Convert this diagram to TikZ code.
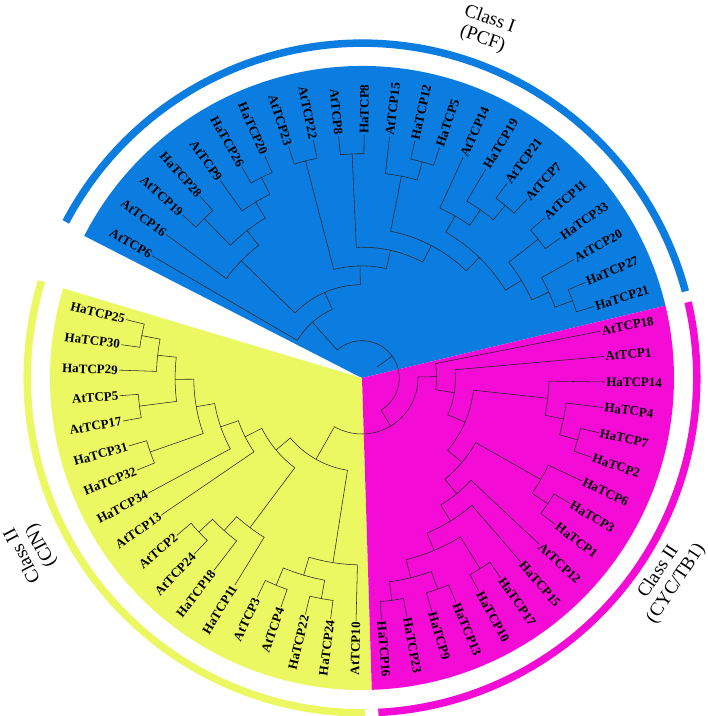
\documentclass[tikz,border=0pt]{standalone}
\usepackage{fontspec}
\setmainfont{Liberation Serif}
\usepackage{xcolor}
\definecolor{pcfblue}{RGB}{12,125,224}
\definecolor{cinyellow}{RGB}{236,248,97}
\definecolor{cycpink}{RGB}{244,12,214}
\usepackage{tikz}
\usetikzlibrary{calc}
\tikzset{
  branch/.style={draw=black!85,line width=0.55pt},
  leaf_lab/.style={font=\fontsize{13}{15}\selectfont\bfseries,inner sep=1.2pt},
  class_lab/.style={font=\fontsize{19}{21}\selectfont,align=center,inner sep=0pt},
  class_ring/.style={line width=7.5pt},
}
% leaf: id, slot on the circle, label
\newcommand\tcpleaf[3]{%
  \pgfmathsetmacro\tcpang{149.8-6.03*#2}%
  \expandafter\xdef\csname tcpA#1\endcsname{\tcpang}%
  \expandafter\xdef\csname tcpH#1\endcsname{0}%
  \coordinate (#1) at (\tcpang:243pt);
  \pgfmathtruncatemacro\tcpleft{abs(\tcpang)>90}%
  \ifnum\tcpleft=1
    \pgfmathsetmacro\tcprot{\tcpang+180}%
    \node[leaf_lab,anchor=east,rotate=\tcprot] (#1-lab) at (#1) {#3};
  \else
    \node[leaf_lab,anchor=west,rotate=\tcpang] (#1-lab) at (#1) {#3};
  \fi
}
% clade: id, child, child
\newcommand\tcpclade[3]{%
  \pgfmathsetmacro\tcpaa{\csname tcpA#2\endcsname}%
  \pgfmathsetmacro\tcpab{\csname tcpA#3\endcsname}%
  \pgfmathsetmacro\tcpang{(\tcpaa+\tcpab)/2}%
  \pgfmathsetmacro\tcphgt{max(\csname tcpH#2\endcsname,\csname tcpH#3\endcsname)+1}%
  \pgfmathsetmacro\tcprad{243-18.7*\tcphgt}%
  \expandafter\xdef\csname tcpA#1\endcsname{\tcpang}%
  \expandafter\xdef\csname tcpH#1\endcsname{\tcphgt}%
  \coordinate (#1) at (\tcpang:\tcprad pt);
  \coordinate (#1-s) at (\tcpaa:\tcprad pt);
  \draw[branch] (#2) -- (#1-s)
    arc[start angle=\tcpaa,end angle=\tcpab,radius=\tcprad pt] -- (#3);
}

\begin{document}
\begin{tikzpicture}[x=1pt,y=1pt]
  \path[use as bounding box] (-362pt,-338pt) rectangle (346pt,378pt);
  \fill[white] (-362pt,-338pt) rectangle (346pt,378pt);

  % sectors
  \fill[pcfblue] (0,0) -- (13.4:312pt) arc[start angle=13.4,end angle=152.9,radius=312pt] -- cycle;
  \fill[cinyellow] (0,0) -- (163.3:312pt) arc[start angle=163.3,end angle=271.8,radius=312pt] -- cycle;
  \fill[cycpink] (0,0) -- (-88.2:312pt) arc[start angle=-88.2,end angle=13.4,radius=312pt] -- cycle;

  % outer rings
  \draw[class_ring,pcfblue] (15:334.8pt) arc[start angle=15,end angle=152.2,radius=334.8pt];
  \draw[class_ring,cycpink] (-87.2:334.8pt) arc[start angle=-87.2,end angle=13.1,radius=334.8pt];
  \draw[class_ring,cinyellow] (163.2:334.8pt) arc[start angle=163.2,end angle=270.5,radius=334.8pt];

  % Class I leaves
  \tcpleaf{at6}{0}{AtTCP6}
  \tcpleaf{at16}{1}{AtTCP16}
  \tcpleaf{at19}{2}{AtTCP19}
  \tcpleaf{ha28}{3}{HaTCP28}
  \tcpleaf{at9}{4}{AtTCP9}
  \tcpleaf{ha26}{5}{HaTCP26}
  \tcpleaf{ha20}{6}{HaTCP20}
  \tcpleaf{at23}{7}{AtTCP23}
  \tcpleaf{at22}{8}{AtTCP22}
  \tcpleaf{at8}{9}{AtTCP8}
  \tcpleaf{ha8}{10}{HaTCP8}
  \tcpleaf{at15}{11}{AtTCP15}
  \tcpleaf{ha12}{12}{HaTCP12}
  \tcpleaf{ha5}{13}{HaTCP5}
  \tcpleaf{at14}{14}{AtTCP14}
  \tcpleaf{ha19}{15}{HaTCP19}
  \tcpleaf{at21}{16}{AtTCP21}
  \tcpleaf{at7}{17}{AtTCP7}
  \tcpleaf{at11}{18}{AtTCP11}
  \tcpleaf{ha33}{19}{HaTCP33}
  \tcpleaf{at20}{20}{AtTCP20}
  \tcpleaf{ha27}{21}{HaTCP27}
  \tcpleaf{ha21}{22}{HaTCP21}
  % Class II (CYC/TB1) leaves
  \tcpleaf{at18}{23}{AtTCP18}
  \tcpleaf{at1}{24}{AtTCP1}
  \tcpleaf{ha14}{25}{HaTCP14}
  \tcpleaf{ha4}{26}{HaTCP4}
  \tcpleaf{ha7}{27}{HaTCP7}
  \tcpleaf{ha2}{28}{HaTCP2}
  \tcpleaf{ha6}{29}{HaTCP6}
  \tcpleaf{ha3}{30}{HaTCP3}
  \tcpleaf{ha1}{31}{HaTCP1}
  \tcpleaf{at12}{32}{AtTCP12}
  \tcpleaf{ha15}{33}{HaTCP15}
  \tcpleaf{ha17}{34}{HaTCP17}
  \tcpleaf{ha10}{35}{HaTCP10}
  \tcpleaf{ha13}{36}{HaTCP13}
  \tcpleaf{ha9}{37}{HaTCP9}
  \tcpleaf{ha23}{38}{HaTCP23}
  \tcpleaf{ha16}{39}{HaTCP16}
  % Class II (CIN) leaves
  \tcpleaf{at10}{40}{AtTCP10}
  \tcpleaf{ha24}{41}{HaTCP24}
  \tcpleaf{ha22}{42}{HaTCP22}
  \tcpleaf{at4}{43}{AtTCP4}
  \tcpleaf{at3}{44}{AtTCP3}
  \tcpleaf{ha11}{45}{HaTCP11}
  \tcpleaf{ha18}{46}{HaTCP18}
  \tcpleaf{at24}{47}{AtTCP24}
  \tcpleaf{at2}{48}{AtTCP2}
  \tcpleaf{at13}{49}{AtTCP13}
  \tcpleaf{ha34}{50}{HaTCP34}
  \tcpleaf{ha32}{51}{HaTCP32}
  \tcpleaf{ha31}{52}{HaTCP31}
  \tcpleaf{at17}{53}{AtTCP17}
  \tcpleaf{at5}{54}{AtTCP5}
  \tcpleaf{ha29}{55}{HaTCP29}
  \tcpleaf{ha30}{56}{HaTCP30}
  \tcpleaf{ha25}{57}{HaTCP25}

  % Class I clades
  \tcpclade{b21}{at19}{ha28}
  \tcpclade{b23}{ha26}{ha20}
  \tcpclade{b22}{at9}{b23}
  \tcpclade{b20}{b21}{b22}
  \tcpclade{b18}{at16}{b20}
  \tcpclade{b16}{at23}{at22}
  \tcpclade{b14}{at8}{ha8}
  \tcpclade{b11}{ha12}{ha5}
  \tcpclade{b12}{at15}{b11}
  \tcpclade{b6}{at21}{at7}
  \tcpclade{b7}{ha19}{b6}
  \tcpclade{b8}{at14}{b7}
  \tcpclade{b4}{at11}{ha33}
  \tcpclade{b1}{ha27}{ha21}
  \tcpclade{b2}{at20}{b1}
  \tcpclade{b3}{b4}{b2}
  \tcpclade{b9}{b8}{b3}
  \tcpclade{b10}{b12}{b9}
  \tcpclade{b13}{b14}{b10}
  \tcpclade{b15}{b16}{b13}
  \tcpclade{b17}{b18}{b15}
  \tcpclade{b19}{at6}{b17}
  % Class II (CYC/TB1) clades
  \tcpclade{x6}{ha7}{ha2}
  \tcpclade{x5}{ha4}{x6}
  \tcpclade{x4}{ha14}{x5}
  \tcpclade{x9}{ha3}{ha1}
  \tcpclade{x8}{ha6}{x9}
  \tcpclade{x13}{ha17}{ha10}
  \tcpclade{x15}{ha13}{ha9}
  \tcpclade{x16}{ha23}{ha16}
  \tcpclade{x14}{x15}{x16}
  \tcpclade{x12}{x13}{x14}
  \tcpclade{x11}{ha15}{x12}
  \tcpclade{x10}{at12}{x11}
  \tcpclade{x7}{x8}{x10}
  \tcpclade{x3}{x4}{x7}
  \tcpclade{x2}{at1}{x3}
  \tcpclade{x1}{at18}{x2}
  % Class II (CIN) clades
  \tcpclade{y1}{ha25}{ha30}
  \tcpclade{y2}{y1}{ha29}
  \tcpclade{y3}{at5}{at17}
  \tcpclade{y4}{y2}{y3}
  \tcpclade{y5}{ha31}{ha32}
  \tcpclade{y6}{y4}{y5}
  \tcpclade{y7}{y6}{ha34}
  \tcpclade{y8}{y7}{at13}
  \tcpclade{y11}{at2}{at24}
  \tcpclade{y12}{y11}{ha18}
  \tcpclade{y13}{y12}{ha11}
  \tcpclade{y9}{y8}{y13}
  \tcpclade{y14}{at3}{at4}
  \tcpclade{y15}{ha22}{ha24}
  \tcpclade{y16}{y14}{y15}
  \tcpclade{y17}{y16}{at10}
  \tcpclade{y18}{y9}{y17}
  % class II together, then root
  \tcpclade{py}{x1}{y18}
  \tcpclade{root}{b19}{py}
  \coordinate (root-base) at (\tcpang:18.7pt);
  \draw[branch] (root-base) -- (root);

  % class names
  \node[class_lab,rotate=-19.6] (cls1) at (70.4:370pt) {Class I\\(PCF)};
  \node[class_lab,rotate=117.6] (cls2) at (207.6:372pt) {Class II\\(CIN)};
  \node[class_lab,rotate=56.4] (cls3) at (-33.2:365pt) {Class II\\(CYC/TB1)};
\end{tikzpicture}
\end{document}
